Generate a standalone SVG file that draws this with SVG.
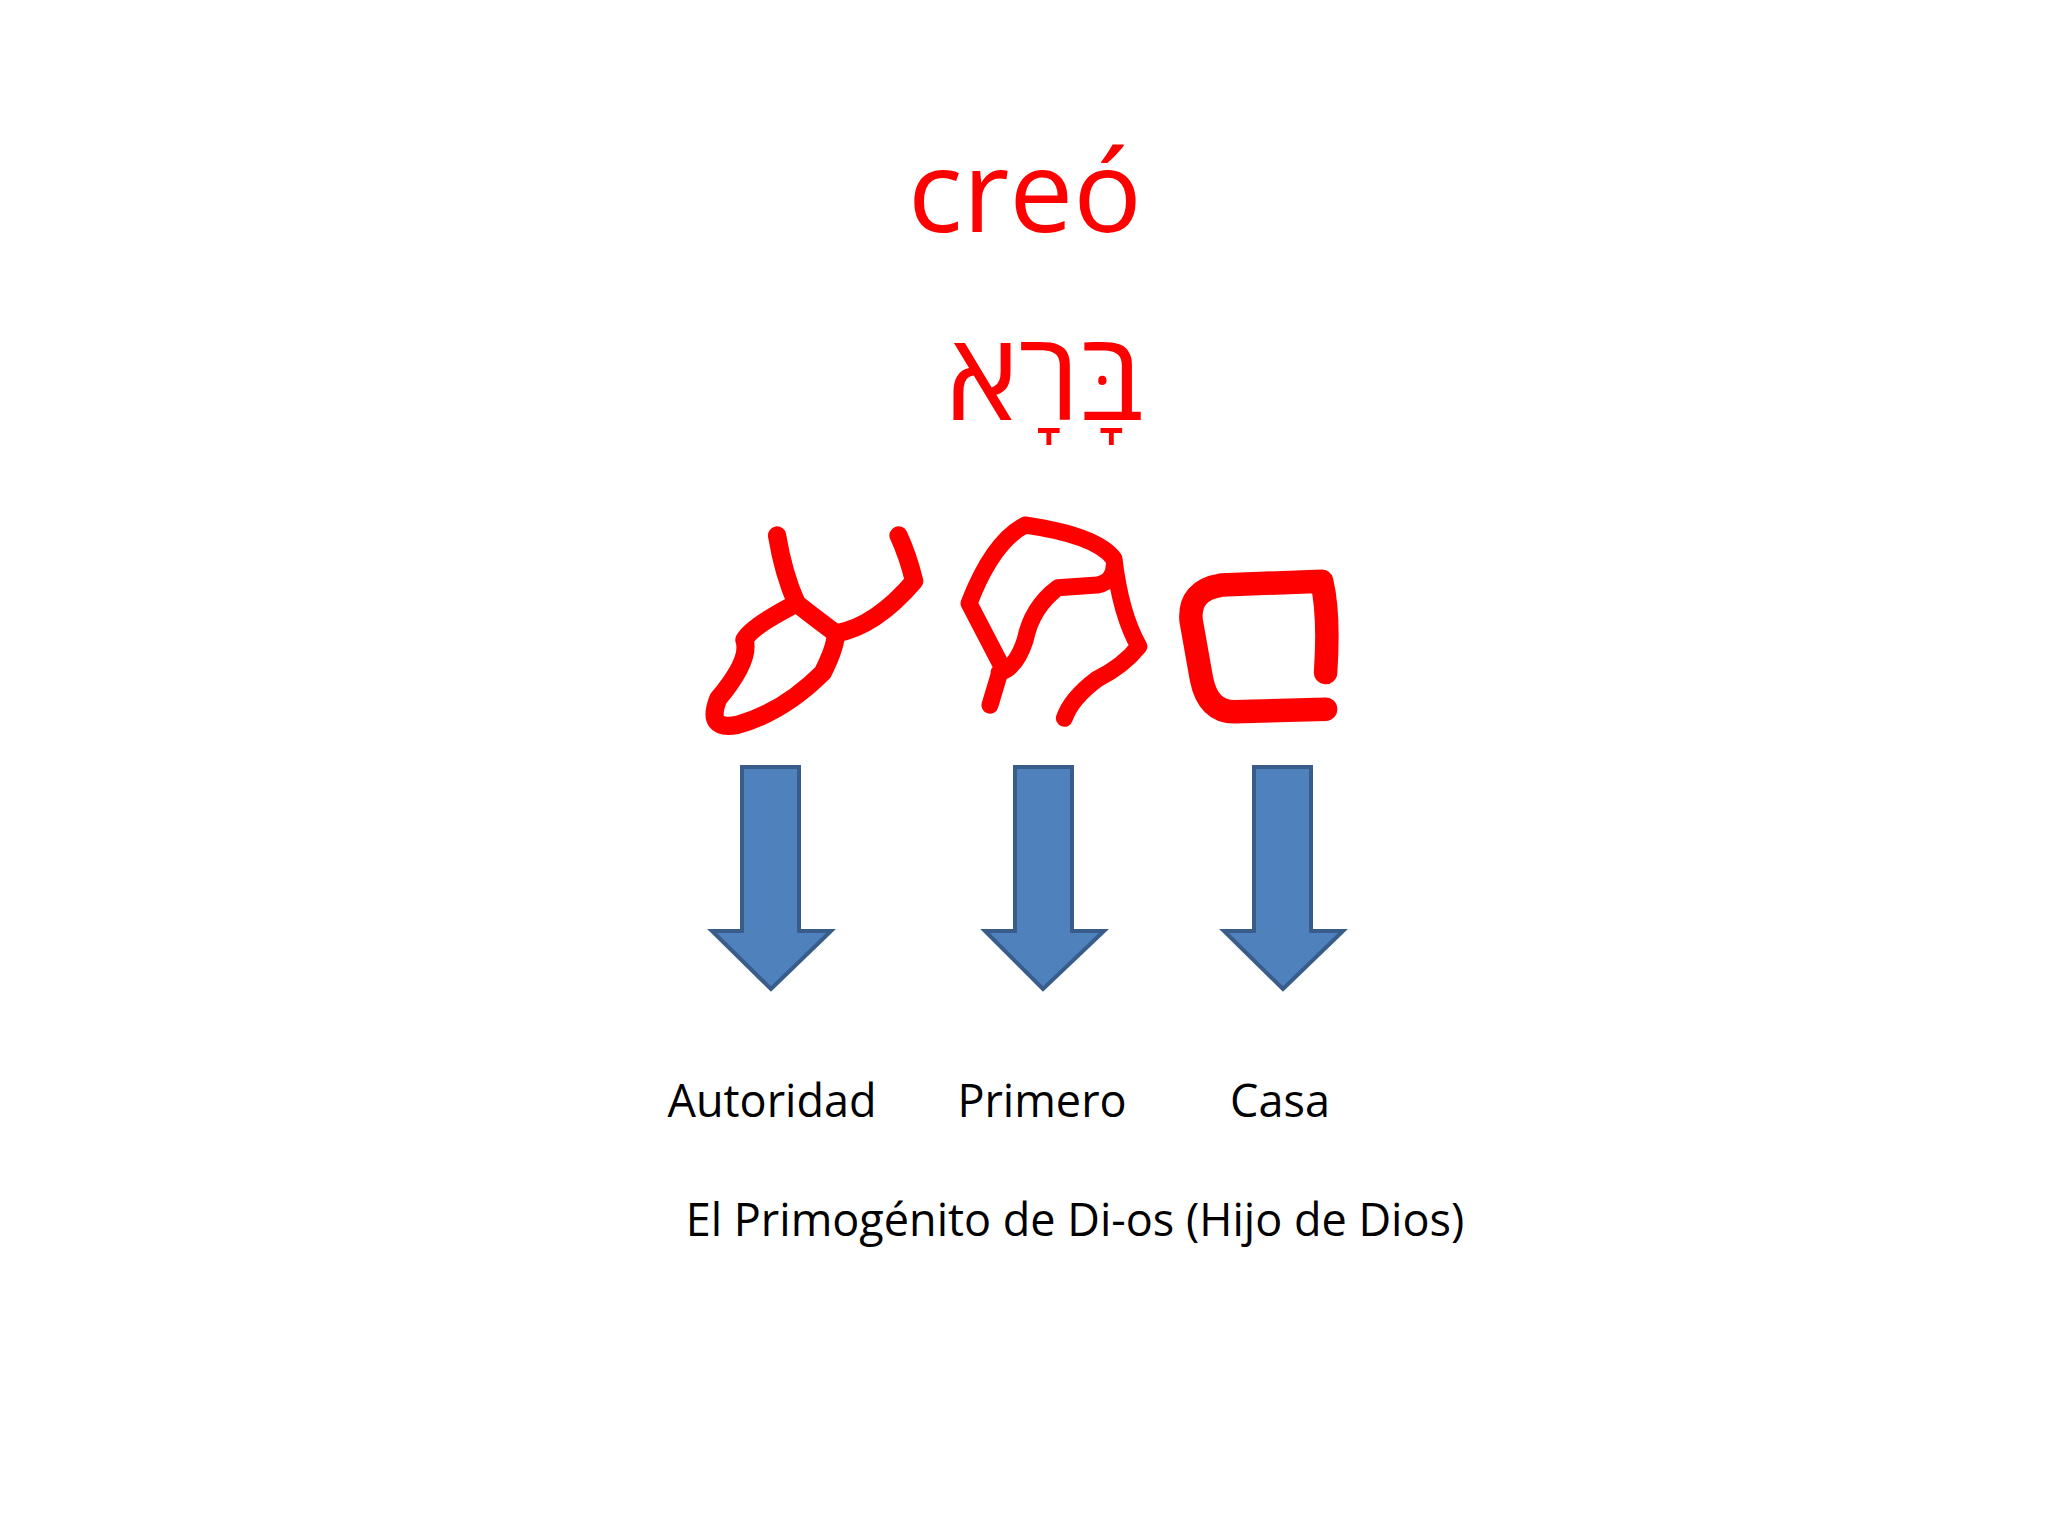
<svg xmlns="http://www.w3.org/2000/svg" width="2048" height="1536" viewBox="0 0 2048 1536">
<style>
.red{fill:#ff0000;font-family:"Open Sans","Noto Sans",sans-serif}
.lbl{fill:#000;font-family:"Open Sans","Noto Sans",sans-serif;font-size:45px;text-anchor:middle}
.arr{fill:#4F81BD;stroke:#385D8A;stroke-width:4}
.g{fill:none;stroke:#ff0000;stroke-linecap:round;stroke-linejoin:round}
</style>
<rect width="2048" height="1536" fill="#fff"/>
<g id="title"><text class="red" x="1025" y="232" font-size="114" text-anchor="middle">creó</text></g>
<g id="hebrew"><text class="red" x="1045" y="420" font-size="122" text-anchor="middle" font-family="'Noto Sans Hebrew','DejaVu Sans',sans-serif">בָּרָא</text></g>
<g id="paleo" transform="scale(1.306)">
<path class="g" stroke-width="14" d="M595,410 Q600,440 610,462 Q620,470 640,485 M610,462 Q575,480 570,490 Q575,505 550,535 Q540,560 565,555 Q600,545 630,515 Q640,495 640,485 Q670,480 700,445 Q695,425 688,410"/>
<path class="g" stroke-width="13" d="M758,540 L767,510 L742,462 Q760,415 785,402 Q840,410 853,428 Q855,445 840,448 L810,450 Q790,465 785,490 Q778,512 765,515 M853,428 Q858,470 872,495 Q860,510 840,520 Q820,535 815,550"/>
<path class="g" stroke-width="18" d="M1015,515 Q1018,470 1012,445 L935,448 Q910,452 912,475 L920,520 Q925,545 945,545 L1015,543"/>
</g>
<g id="arrow1"><path class="arr" d="M742,767 H799 V931 H831 L771,989 L712,931 H742 Z"/></g>
<g id="arrow2"><path class="arr" d="M1015,767 H1072 V931 H1104 L1043,989 L985,931 H1015 Z"/></g>
<g id="arrow3"><path class="arr" d="M1254,767 H1311 V931 H1343 L1283,989 L1224,931 H1254 Z"/></g>
<g id="labels">
<text class="lbl" x="772" y="1117">Autoridad</text>
<text class="lbl" x="1042" y="1117">Primero</text>
<text class="lbl" x="1280" y="1117">Casa</text>
<text class="lbl" x="1075" y="1236">El Primogénito de Di-os (Hijo de Dios)</text>
</g>
</svg>
